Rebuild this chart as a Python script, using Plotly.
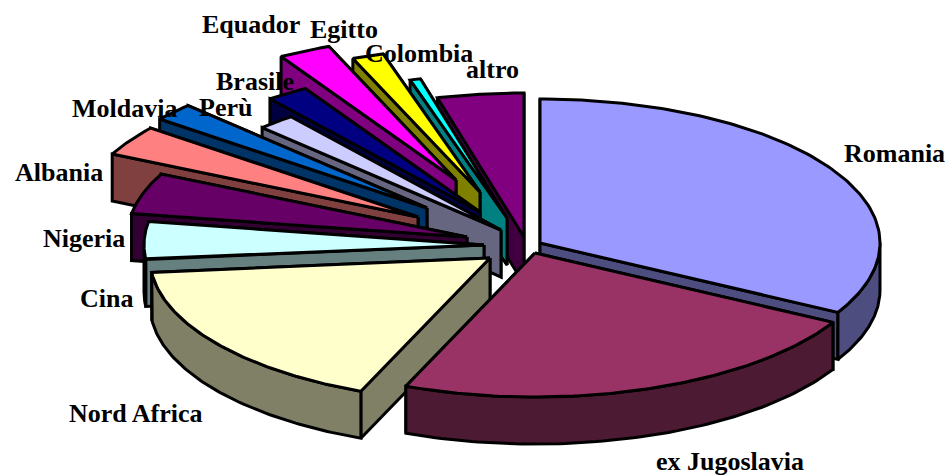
import numpy as np
import plotly.graph_objects as go

categories = ["Romania", "ex Jugoslavia", "Nord Africa", "Cina", "Nigeria", "Albania", "Moldavia",
              "Perù", "Brasile", "Equador", "Egitto", "Colombia", "altro"]
values = [33.0, 23.2, 17.2, 4.2, 4.6, 3.4, 2.0, 1.8, 2.0, 2.5, 1.5, 0.5, 4.1]

top_colors = ["#9999ff", "#993366", "#ffffcc", "#ccffff", "#660066", "#ff8080", "#0066cc",
              "#ccccff", "#000080", "#ff00ff", "#ffff00", "#00ffff", "#800080"]
side_colors = ["#4d4d80", "#4d1a33", "#808066", "#668080", "#330033", "#804040", "#003366",
               "#666680", "#000040", "#800080", "#808000", "#008080", "#400040"]

# Explosion of each slice from the pie centre, in pixels
explode_x = [30, 25, -20, -26, -43, -92, -83, -9, -30, -54, -30, -3, 14]
explode_y = [3, 13, 18, 5, -3, -23, -32, -10, -28, -60, -48, -22, -3]

draw_order = ["altro", "Colombia", "Egitto", "Equador", "Brasile", "Perù", "Moldavia",
              "Albania", "Nigeria", "Cina", "Nord Africa", "Romania", "ex Jugoslavia"]

label_x = [894, 730, 136, 106, 84, 59, 124, 225, 255, 251, 344, 419, 492]
label_y = [153, 461, 413, 298, 238, 172, 108, 107, 81, 24, 29, 53, 69]

CX, CY, RX, RY, DEPTH = 510, 240, 340, 144, 47
LW = 3

total = sum(values)
ends = np.cumsum(values) / total * 2 * np.pi
starts = np.concatenate([[0], ends[:-1]])


def rim(ax, ay, a):
    return ax + RX * np.sin(a), ay - RY * np.cos(a)


fig = go.Figure()


def poly(xs, ys, color, name):
    fig.add_trace(go.Scatter(
        x=list(xs) + [xs[0]], y=list(ys) + [ys[0]], mode="lines", fill="toself",
        fillcolor=color, line=dict(color="#000000", width=LW), name=name,
        hoverinfo="skip", showlegend=False))


for name in draw_order:
    i = categories.index(name)
    ax, ay = CX + explode_x[i], CY + explode_y[i]
    a0, a1 = starts[i], ends[i]
    # radial cut faces, the one further back first
    cuts = (a1, a0) if (a0 + a1) / 2 > np.pi else (a0, a1)
    for a in cuts:
        ex, ey = rim(ax, ay, a)
        poly([ax, ex, ex, ax], [ay, ey, ey + DEPTH, ay + DEPTH], side_colors[i], name)
    # outer wall: only the part that faces the viewer
    lo, hi = max(a0, np.pi / 2), min(a1, 3 * np.pi / 2)
    if hi > lo:
        t = np.linspace(lo, hi, 80)
        ox, oy = rim(ax, ay, t)
        poly(np.concatenate([ox, ox[::-1]]), np.concatenate([oy, oy[::-1] + DEPTH]), side_colors[i], name)
    # top face
    t = np.linspace(a0, a1, 120)
    ox, oy = rim(ax, ay, t)
    poly(np.concatenate([[ax], ox]), np.concatenate([[ay], oy]), top_colors[i], name)

for name, lx, ly in zip(categories, label_x, label_y):
    fig.add_annotation(x=lx, y=ly, text=f"<b>{name}</b>", showarrow=False,
                       xanchor="center", yanchor="middle",
                       font=dict(family="Liberation Serif", size=26, color="#000000"))

fig.update_layout(
    width=952, height=476, margin=dict(l=0, r=0, t=0, b=0),
    paper_bgcolor="#ffffff", plot_bgcolor="#ffffff", showlegend=False,
    xaxis=dict(range=[0, 952], visible=False, fixedrange=True),
    yaxis=dict(range=[476, 0], visible=False, fixedrange=True),
)
fig.write_html("out.html", config={"displayModeBar": False},
               post_script="document.body.style.margin='0';document.body.style.overflow='hidden';")
